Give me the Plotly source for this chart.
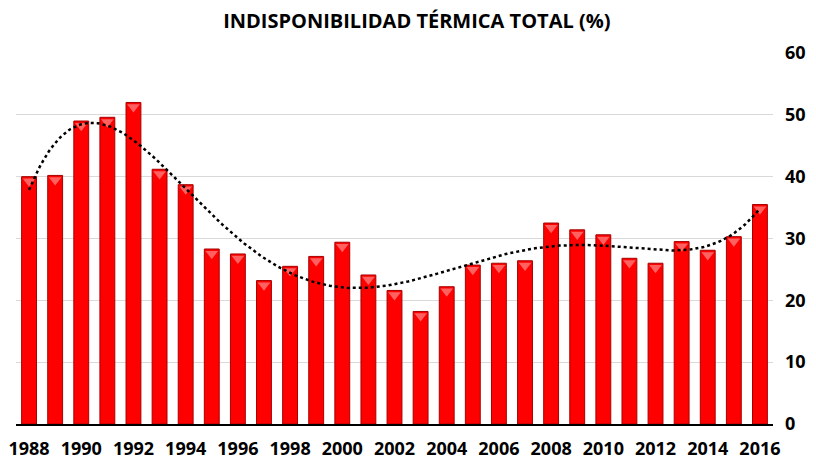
import numpy as np
import plotly.graph_objects as go

years = list(range(1988, 2017))
values = [40.0, 40.2, 49.0, 49.6, 52.0, 41.2, 38.7, 28.3, 27.5, 23.2,
          25.5, 27.1, 29.4, 24.1, 21.6, 18.2, 22.2, 25.7, 26.0, 26.4,
          32.5, 31.4, 30.6, 26.8, 26.0, 29.5, 28.1, 30.3, 35.5]
tick_years = list(range(1988, 2017, 2))
y_ticks = [0, 10, 20, 30, 40, 50, 60]

# polynomial (order 6) trendline computed from the data
xs = np.array(years, dtype=float)
xn = (xs - xs.mean()) / xs.std()
coef = np.polyfit(xn, np.array(values), 6)
xf = np.linspace(xs[0], xs[-1], 300)
yf = np.polyval(coef, (xf - xs.mean()) / xs.std())

font = "Open Sans"
fig = go.Figure()
fig.add_trace(go.Bar(
    x=years, y=values,
    marker=dict(color="#ff0000", line=dict(color="#a80000", width=1)),
    width=0.57,
))
# bevel highlight at the top of each bar
fig.add_trace(go.Scatter(
    x=years, y=[v - 0.75 for v in values], mode="markers",
    marker=dict(symbol="triangle-down", size=11, color="#ff6060", line=dict(width=0)),
    hoverinfo="skip",
))
fig.add_trace(go.Scatter(
    x=xf, y=yf, mode="lines",
    line=dict(color="black", width=2.5, dash="dot"),
))
fig.update_layout(
    width=808, height=451,
    margin=dict(l=8, r=43, t=45, b=35),
    paper_bgcolor="white", plot_bgcolor="white",
    showlegend=False,
    title=dict(text="INDISPONIBILIDAD TÉRMICA TOTAL (%)", x=0.506, xanchor="center",
               y=0.971, yanchor="middle",
               font=dict(family=font, size=20, color="black", weight="bold")),
    xaxis=dict(range=[1987.5, 2016.5], tickmode="array", tickvals=tick_years,
               ticktext=[str(y) for y in tick_years],
               showline=True, linecolor="black", linewidth=1.5,
               showgrid=False, ticks="", ticklabelstandoff=8, automargin=False,
               tickfont=dict(family=font, size=18, color="black", weight="bold")),
    yaxis=dict(side="right", range=[0, 60], tickvals=y_ticks,
               showgrid=True, gridcolor="#d9d9d9", gridwidth=1,
               zeroline=False, showline=False, ticks="",
               ticklabelstandoff=11, automargin=False,
               tickfont=dict(family=font, size=18, color="black", weight="bold")),
)
fig.write_html("out.html")
